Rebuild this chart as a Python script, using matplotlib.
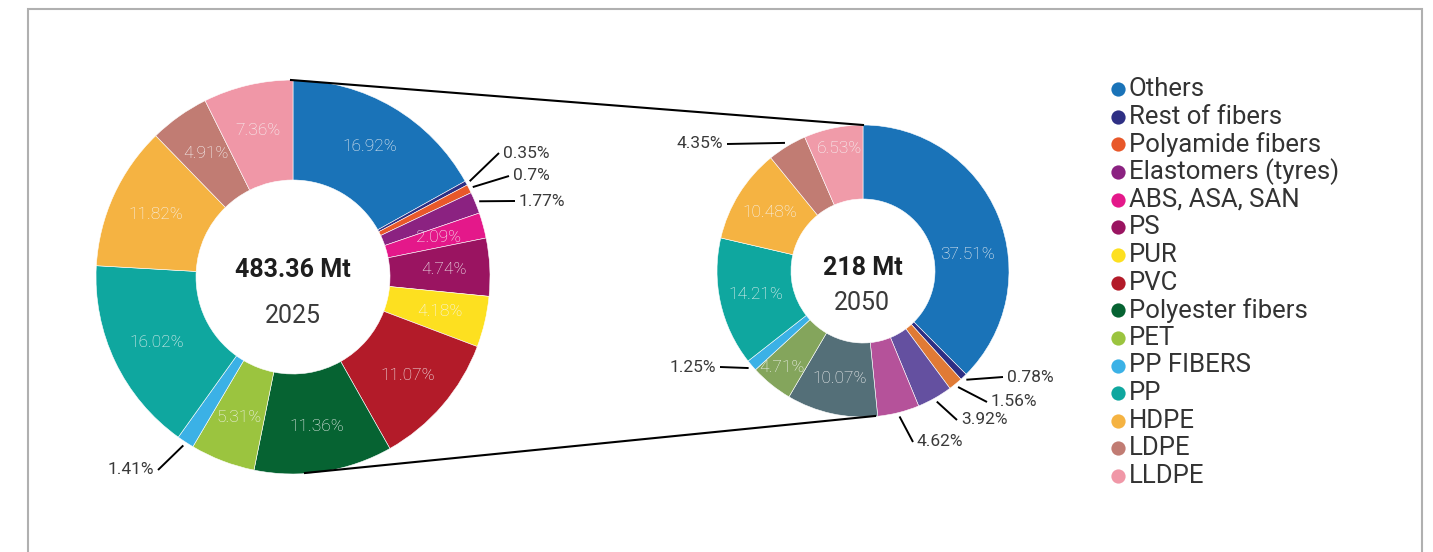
import matplotlib.pyplot as plt
import matplotlib.patches as mpatches
import numpy as np

# data
categories = ['Others', 'Rest of fibers', 'Polyamide fibers', 'Elastomers (tyres)',
              'ABS, ASA, SAN', 'PS', 'PUR', 'PVC', 'Polyester fibers', 'PET',
              'PP FIBERS', 'PP', 'HDPE', 'LDPE', 'LLDPE']
colors = ['#1a73b8', '#2e2f84', '#e8582a', '#8b2281', '#e4188a', '#9a1461', '#fde020',
          '#b31b29', '#066332', '#9bc43f', '#3bb1e6', '#0fa79f', '#f5b342', '#c17c73',
          '#f097a7']
share_2025 = [16.92, 0.35, 0.7, 1.77, 2.09, 4.74, 4.18, 11.07, 11.36, 5.31, 1.41,
              16.02, 11.82, 4.91, 7.36]
total_2025 = '483.36 Mt'

# breakdown of "Others" in 2050
share_2050 = [37.51, 0.78, 1.56, 3.92, 4.62, 10.07, 4.71, 1.25, 14.21, 10.48, 4.35, 6.53]
colors_2050 = ['#1a73b8', '#2e2f84', '#e07a35', '#6450a0', '#b5529a', '#546f78',
               '#84a55c', '#3bb1e6', '#0fa79f', '#f5b342', '#c17c73', '#f09ba9']
total_2050 = '218 Mt'

W, H = 1433, 552
FONT = 'Roboto'


def fy(y):
    # pixel row (from top) -> data y
    return H - y


fig = plt.figure(figsize=(W / 100, H / 100), dpi=100)
ax = fig.add_axes([0, 0, 1, 1])


def donut(values, cols, cx, cy, r, width, outside, label_r, label_override):
    wedges, _ = ax.pie(values, colors=cols, startangle=90, counterclock=False,
                       center=(cx, fy(cy)), radius=r,
                       wedgeprops=dict(width=width, edgecolor='white', linewidth=0.4))
    for i, (w, v) in enumerate(zip(wedges, values)):
        mid = np.radians((w.theta1 + w.theta2) / 2)
        txt = f'{v:g}%'
        if i in outside:
            ex, ey, ha = outside[i]
            sx = cx + (r + 4) * np.cos(mid)
            sy = fy(cy) + (r + 4) * np.sin(mid)
            ax.plot([sx, ex], [sy, fy(ey)], color='black', lw=1.4, solid_capstyle='butt')
            dx = 4 if ha == 'left' else -4
            ax.text(ex + dx, fy(ey), txt, ha=ha, va='center', fontsize=12.5,
                    color='#3a3a3a', family=FONT)
        else:
            rr = label_r
            if i in label_override:
                rr, ang = label_override[i]
                mid = np.radians(ang)
            ax.text(cx + rr * np.cos(mid), fy(cy) + rr * np.sin(mid), txt,
                    ha='center', va='center', fontsize=12.5, color='#f7f7f7',
                    family=FONT, fontweight='light')


# left donut (2025)
left_out = {1: (499, 153, 'left'), 2: (509, 176, 'left'), 3: (515, 201, 'left'),
            10: (158, 470, 'right')}
donut(share_2025, colors, 293, 277, 197, 100, left_out, 151, {})

# right donut (2050)
right_out = {1: (1003, 377, 'left'), 2: (987, 402, 'left'), 3: (957, 420, 'left'),
             4: (913, 442, 'left'), 7: (720, 367, 'right'), 10: (727, 144, 'right')}
right_override = {0: (106, 9), 6: (126, 230), 11: (125, 101)}
donut(share_2050, colors_2050, 863, 271, 146, 74, right_out, 110, right_override)

# centre texts
ax.text(293, fy(270), total_2025, ha='center', va='center', fontsize=18,
        fontweight='bold', color='#1e1e1e', family=FONT)
ax.text(293, fy(316), '2025', ha='center', va='center', fontsize=18,
        color='#3a3a3a', family=FONT)
ax.text(863, fy(268), total_2050, ha='center', va='center', fontsize=18,
        fontweight='bold', color='#1e1e1e', family=FONT)
ax.text(862, fy(303), '2050', ha='center', va='center', fontsize=18,
        color='#3a3a3a', family=FONT)

# connector lines between the two donuts
ax.plot([291, 863], [fy(80), fy(125)], color='black', lw=1.5)
ax.plot([305, 875], [fy(473), fy(416)], color='black', lw=1.5)

# legend
for k, (name, c) in enumerate(zip(categories, colors)):
    y = 89 + k * 27.65
    ax.scatter([1118], [fy(y)], s=105, color=c, zorder=3, linewidths=0)
    ax.text(1129, fy(y), name, ha='left', va='center', fontsize=18.5,
            color='#333333', family=FONT)

# outer frame
ax.add_patch(mpatches.Rectangle((28, fy(600)), 1394, 591, fill=False,
                                edgecolor='#b0b0b0', lw=1.5, clip_on=False))

ax.set_xlim(0, W)
ax.set_ylim(0, H)
ax.set_aspect('equal')
ax.axis('off')

fig.savefig('out.png', dpi=100, facecolor='white')
